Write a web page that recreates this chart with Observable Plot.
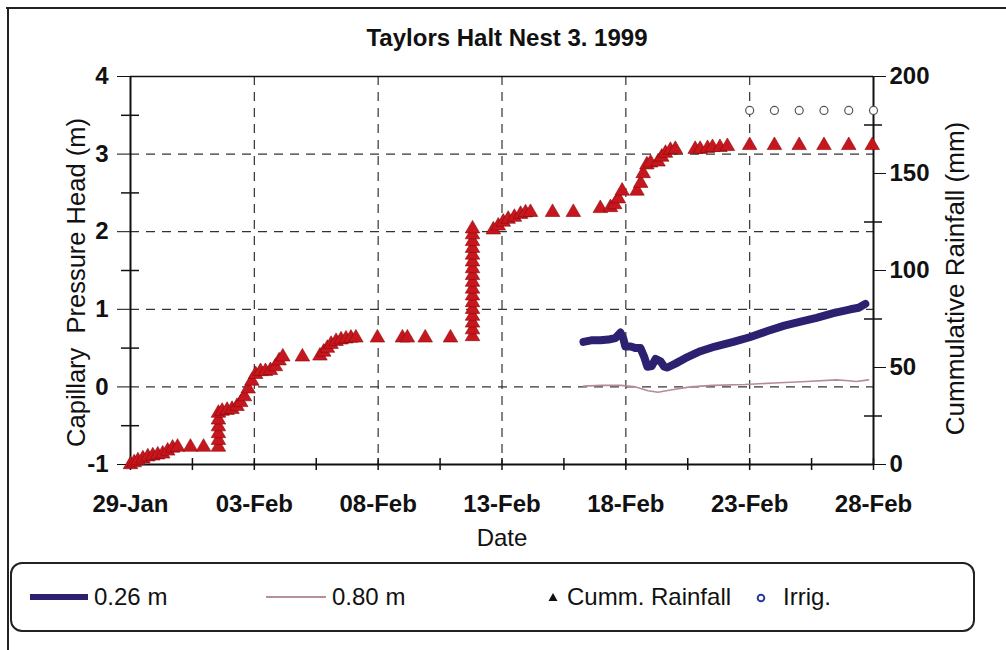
<!DOCTYPE html>
<html>
<head>
<meta charset="utf-8">
<script src="https://cdn.jsdelivr.net/npm/d3@7"></script>
<script src="https://cdn.jsdelivr.net/npm/@observablehq/plot@0.6"></script>
<style>
  html, body { margin: 0; padding: 0; background: #fff; }
  #wrap { position: relative; width: 1006px; height: 650px; overflow: hidden; font-family: "Liberation Sans", Arial, sans-serif; color: #111; }
  #frameTop { position: absolute; left: 6px; top: 7px; width: 1000px; height: 0; border-top: 2px solid #222; }
  #frameLeft { position: absolute; left: 7px; top: 7px; width: 0; height: 643px; border-left: 2px solid #222; }
  #title { position: absolute; left: 0; width: 1006px; top: 26px; text-align: center; font-size: 24px; font-weight: bold; line-height: 1; padding-left: 8px; box-sizing: border-box; }
  #chart { position: absolute; left: 0; top: 50px; }
  #legendBox { position: absolute; left: 10px; top: 562px; width: 961px; height: 66px; border: 2px solid #222; border-radius: 12px; }
  .lg { position: absolute; font-size: 24px; line-height: 28px; top: 583px; white-space: nowrap; }
  .sw { position: absolute; }
</style>
</head>
<body>
<div id="wrap">
  <div id="frameTop"></div>
  <div id="frameLeft"></div>
  <div id="title">Taylors Halt Nest 3. 1999</div>
  <div id="chart"></div>
  <div id="legendBox"></div>
  <div class="sw" style="left:30px; top:594px; width:58px; height:6px; background:#2b2170;"></div>
  <div class="lg" style="left:94px;">0.26 m</div>
  <div class="sw" style="left:266px; top:596px; width:60px; height:2px; background:#b8909a;"></div>
  <div class="lg" style="left:332px;">0.80 m</div>
  <svg class="sw" style="left:547px; top:591px;" width="12" height="12"><path d="M6,2 L10.5,10 L1.5,10 Z" fill="#111"/></svg>
  <div class="lg" style="left:567px;">Cumm. Rainfall</div>
  <svg class="sw" style="left:755px; top:592px;" width="12" height="12"><circle cx="6" cy="6" r="3.3" fill="#fff" stroke="#2a3a9a" stroke-width="2"/></svg>
  <div class="lg" style="left:783px;">Irrig.</div>
</div>
<script>
// ---- Data (days after 29-Jan-1999 00:00) ----
const rainDay = [0, 0.15, 0.3, 0.5, 0.7, 0.9, 1.1, 1.3, 1.5, 1.7, 1.9, 2.42, 2.95,
  3.55, 3.55, 3.55, 3.55, 3.55, 3.55, 3.7, 3.9, 4.1, 4.3, 4.45, 4.6, 4.75, 4.9, 5.05,
  5.25, 5.45, 5.65, 5.85, 6.0, 6.15, 6.94, 7.65, 7.8, 7.95, 8.1, 8.3, 8.5, 8.7, 8.9, 9.1,
  9.97, 10.98, 11.18, 11.9, 12.92,
  13.81, 13.81, 13.81, 13.81, 13.81, 13.81, 13.81, 13.81, 13.81, 13.81, 13.81, 13.81, 13.81, 13.81, 13.81, 13.81, 13.81,
  14.65, 14.85, 15.05, 15.25, 15.5, 15.75, 15.95, 16.15, 17.04, 17.88, 18.97, 19.38, 19.55, 19.7, 19.85,
  20.45, 20.6, 20.7, 20.85, 21.0, 21.3, 21.45, 21.6, 21.8, 22.0, 22.8, 23.0, 23.3, 23.5, 23.8, 24.1,
  25.0, 26.0, 27.0, 28.0, 29.0, 29.95];
const rainMm = [0, 1, 2, 3, 4, 4.5, 5, 5.5, 7, 8.5, 9, 9, 9,
  9, 12.5, 16, 19.5, 23, 26.5, 27.5, 28, 28.5, 30, 32, 35, 39, 43, 46.5,
  48, 48, 48.5, 50.5, 53.5, 55.5, 55.5, 56, 58, 60, 62, 63.5, 64.3, 64.8, 65.2, 65.3,
  65.3, 65.3, 65.3, 65.3, 65.3,
  66, 69.5, 73, 76.5, 80, 83.5, 87, 90.5, 94, 97.5, 101, 104.5, 108, 111.5, 115, 118.5, 121.5,
  121, 123, 125, 126.5, 127.5, 129, 129.8, 130, 130, 130, 132, 132.5, 134, 137, 141,
  141, 145, 150, 154.5, 155.5, 156, 158.5, 160.5, 162, 162.5, 162.5, 162.5, 163, 163.5, 163.5, 164,
  164.5, 164.5, 164.5, 164.5, 164.5, 164.5];

const irrigDay = [25, 26, 27, 28, 29, 30];
const irrigMm = [182.5, 182.5, 182.5, 182.5, 182.5, 182.5];

const d026Day = [18.29, 18.6, 18.97, 19.3, 19.58, 19.78, 19.9, 19.98, 20.2, 20.4, 20.59, 20.75, 20.87,
  21.05, 21.2, 21.4, 21.55, 21.68, 22.0, 22.4, 23.01, 23.6, 24.34, 25.0, 25.72, 26.4, 27.06, 27.7,
  28.38, 29.07, 29.4, 29.67];
const d026Val = [0.58, 0.60, 0.60, 0.61, 0.63, 0.70, 0.62, 0.52, 0.52, 0.50, 0.50, 0.38, 0.26,
  0.27, 0.36, 0.33, 0.26, 0.25, 0.30, 0.37, 0.46, 0.52, 0.58, 0.64, 0.72, 0.79, 0.84, 0.89,
  0.95, 1.00, 1.02, 1.07];

const d080Day = [18.3, 19.0, 19.8, 20.4, 20.9, 21.3, 21.8, 22.6, 23.5, 24.8, 26.0, 27.3, 28.5, 29.0, 29.3, 29.8];
const d080Val = [0.01, 0.02, 0.02, 0.0, -0.05, -0.07, -0.04, 0.0, 0.02, 0.03, 0.05, 0.07, 0.09, 0.08, 0.07, 0.09];

const xTickDays = [0, 5, 10, 15, 20, 25, 30];       // 29-Jan ... 28-Feb
const xMinorDays = [2.5, 7.5, 12.5, 17.5, 22.5, 27.5];
const yLeftTicks = [-1, 0, 1, 2, 3, 4];
const yLeftMinor = [-0.5, 0.5, 1.5, 2.5, 3.5];
const yRightTicks = [0, 50, 100, 150, 200];
const yRightMinor = [25, 75, 125, 175];

// ---- helpers ----
const base = Date.UTC(1999, 0, 29);
const toDate = d => new Date(base + d * 864e5);
const mmToY = mm => -1 + mm / 40;      // right axis 0–200 mm maps onto left −1–4 m

const rain = rainDay.map((d, i) => ({date: toDate(d), y: mmToY(rainMm[i])}));
const irrig = irrigDay.map((d, i) => ({date: toDate(d), y: mmToY(irrigMm[i])}));
const s026 = d026Day.map((d, i) => ({date: toDate(d), v: d026Val[i]}));
const s080 = d080Day.map((d, i) => ({date: toDate(d), v: d080Val[i]}));

const W = 1006, H = 500, ML = 130, MR = 133, MT = 26, MB = 86;
const PW = W - ML - MR, PH = H - MT - MB;
const grid = {stroke: "#333", strokeDasharray: "9,7", strokeWidth: 1.2};
const tickFont = {fontSize: 24, fontWeight: "bold"};

const chart = Plot.plot({
  width: W, height: H,
  marginLeft: ML, marginRight: MR, marginTop: MT, marginBottom: MB,
  x: {type: "utc", domain: [toDate(0), toDate(30)]},
  y: {domain: [-1, 4]},
  style: {fontFamily: "'Liberation Sans', Arial, sans-serif", background: "transparent", overflow: "visible", color: "#111"},
  marks: [
    Plot.ruleY([0, 1, 2, 3], grid),
    Plot.ruleX(xTickDays.slice(1, -1).map(toDate), grid),
    Plot.ruleY([4], {stroke: "#111", strokeWidth: 1.6}),
    Plot.ruleY([-1], {stroke: "#111", strokeWidth: 2}),
    Plot.ruleX([toDate(0)], {stroke: "#111", strokeWidth: 2}),
    Plot.ruleX([toDate(30)], {stroke: "#111", strokeWidth: 2}),
    // left axis
    Plot.axisY(yLeftTicks, {anchor: "left", tickSize: 13, tickPadding: 9, tickFormat: d => String(d), label: null, ...tickFont}),
    Plot.ruleY(yLeftMinor, {insetLeft: -9, insetRight: PW - 9, stroke: "#111", strokeWidth: 1.5}),
    // right axis
    Plot.axisY(yRightTicks.map(mmToY), {anchor: "right", tickSize: 12, tickPadding: 4, tickFormat: v => String(Math.round((v + 1) * 40)), label: null, ...tickFont}),
    Plot.ruleY(yRightMinor.map(mmToY), {insetLeft: PW - 9, insetRight: -9, stroke: "#111", strokeWidth: 1.5}),
    // x axis
    Plot.axisX(xTickDays.map(toDate), {tickSize: 0, tickPadding: 30, tickFormat: d3.utcFormat("%d-%b"), label: null, ...tickFont}),
    Plot.ruleX(xTickDays.concat(xMinorDays).map(toDate), {insetTop: PH - 6, insetBottom: -6, stroke: "#111", strokeWidth: 1.5}),
    // axis titles
    Plot.text(["Capillary  Pressure Head (m)"], {frameAnchor: "left", textAnchor: "middle", dx: -54, dy: 12, rotate: -90, fontSize: 25.5}),
    Plot.text(["Cummulative Rainfall (mm)"], {frameAnchor: "right", textAnchor: "middle", dx: 82, dy: 8, rotate: -90, fontSize: 26}),
    Plot.text(["Date"], {frameAnchor: "bottom", dy: 81, fontSize: 24}),
    // data
    Plot.line(s080, {x: "date", y: "v", stroke: "#b48c96", strokeWidth: 1.6}),
    Plot.line(s026, {x: "date", y: "v", stroke: "#2b2170", strokeWidth: 8, strokeLinejoin: "round"}),
    Plot.dot(rain, {x: "date", y: "y", symbol: "triangle", r: 5.4, fill: "#c8161e", stroke: "#8a0a0a", strokeWidth: 0.6}),
    Plot.dot(irrig, {x: "date", y: "y", r: 4, fill: "#fff", stroke: "#555", strokeWidth: 1.2})
  ]
});
document.getElementById("chart").appendChild(chart);
</script>
</body>
</html>
